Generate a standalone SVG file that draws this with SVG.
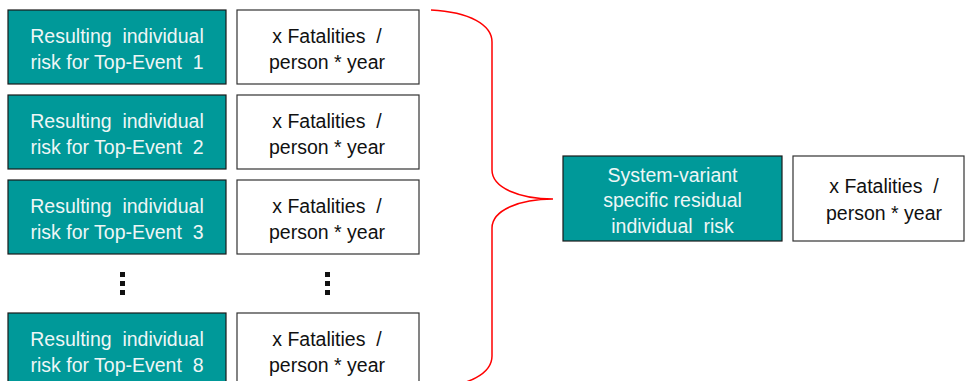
<svg xmlns="http://www.w3.org/2000/svg" width="965" height="381" viewBox="0 0 965 381">
<style>
.t{fill:#009999;stroke:#1a1a1a;stroke-width:1.2}
.w{fill:#ffffff;stroke:#333333;stroke-width:1.2}
text{font-family:"Liberation Sans",Arial,sans-serif;font-size:19.5px;text-anchor:middle;white-space:pre}
.lt{fill:#eef6f6}
.dk{fill:#111111}
.dot{fill:#111111}
</style>
<rect width="965" height="381" fill="#ffffff"/>
<g id="risk1"><rect class="t" x="8" y="10" width="218" height="74"/><text class="lt" x="117" y="43" xml:space="preserve">Resulting  individual</text><text class="lt" x="117" y="69" xml:space="preserve">risk for Top-Event  1</text></g>
<g id="val1"><rect class="w" x="237" y="10" width="182" height="74"/><text class="dk" x="327" y="43" xml:space="preserve">x Fatalities  /</text><text class="dk" x="327" y="69">person * year</text></g>
<g id="risk2"><rect class="t" x="8" y="95" width="218" height="74"/><text class="lt" x="117" y="128" xml:space="preserve">Resulting  individual</text><text class="lt" x="117" y="154" xml:space="preserve">risk for Top-Event  2</text></g>
<g id="val2"><rect class="w" x="237" y="95" width="182" height="74"/><text class="dk" x="327" y="128" xml:space="preserve">x Fatalities  /</text><text class="dk" x="327" y="154">person * year</text></g>
<g id="risk3"><rect class="t" x="8" y="180" width="218" height="74"/><text class="lt" x="117" y="213" xml:space="preserve">Resulting  individual</text><text class="lt" x="117" y="239" xml:space="preserve">risk for Top-Event  3</text></g>
<g id="val3"><rect class="w" x="237" y="180" width="182" height="74"/><text class="dk" x="327" y="213" xml:space="preserve">x Fatalities  /</text><text class="dk" x="327" y="239">person * year</text></g>
<g id="dots1"><rect class="dot" x="120" y="272" width="5" height="5"/><rect class="dot" x="120" y="281" width="5" height="5"/><rect class="dot" x="120" y="290" width="5" height="5"/></g>
<g id="dots2"><rect class="dot" x="325" y="272" width="5" height="5"/><rect class="dot" x="325" y="281" width="5" height="5"/><rect class="dot" x="325" y="290" width="5" height="5"/></g>
<g id="risk8"><rect class="t" x="8" y="313" width="218" height="74"/><text class="lt" x="117" y="346" xml:space="preserve">Resulting  individual</text><text class="lt" x="117" y="372" xml:space="preserve">risk for Top-Event  8</text></g>
<g id="val8"><rect class="w" x="237" y="313" width="182" height="74"/><text class="dk" x="327" y="346" xml:space="preserve">x Fatalities  /</text><text class="dk" x="327" y="372">person * year</text></g>
<g id="connectors"><path d="M431,10 C470,12 492,25 492,42 L492,170 C492,188 520,199 553,199 C520,199 492,210 492,228 L492,356 C492,373 470,386 431,388" fill="none" stroke="#ff0000" stroke-width="1.5"/></g>
<g id="residual"><rect class="t" x="563" y="156" width="219" height="85"/><text class="lt" x="672.5" y="182">System-variant</text><text class="lt" x="672.5" y="207">specific residual</text><text class="lt" x="672.5" y="233" xml:space="preserve">individual  risk</text></g>
<g id="valres"><rect class="w" x="793" y="156" width="171" height="85"/><text class="dk" x="884" y="193" xml:space="preserve">x Fatalities  /</text><text class="dk" x="884" y="220">person * year</text></g>
</svg>
